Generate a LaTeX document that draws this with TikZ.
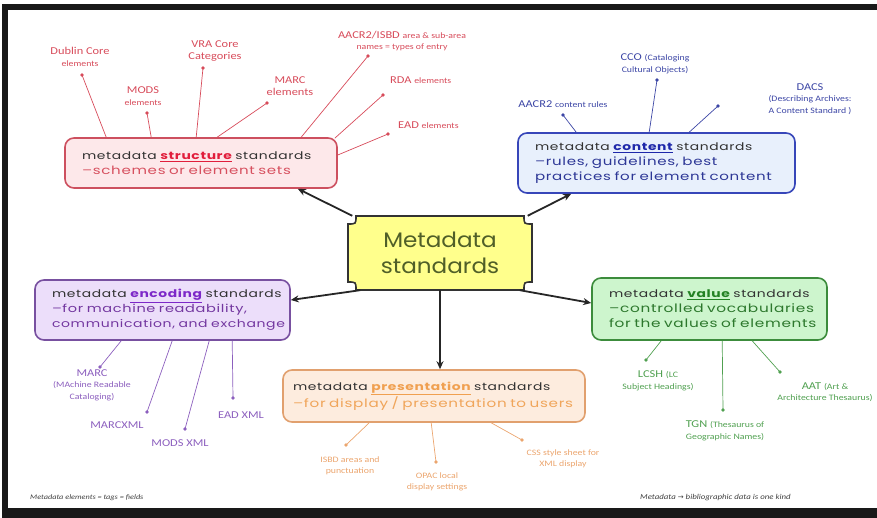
\documentclass[tikz,border=0pt]{standalone}
\usepackage{fontspec}
\setmainfont{Carlito}
\newfontfamily\boxfont[FakeStretch=1.32,LetterSpace=6]{Poppins}
\newfontfamily\bigfont[FakeStretch=1.1]{Poppins}
\newfontfamily\lblfont[FakeStretch=1.18]{Carlito}
\usetikzlibrary{arrows.meta,calc}

\definecolor{sred}{RGB}{205,80,95}
\definecolor{sfill}{RGB}{253,232,234}
\definecolor{skey}{RGB}{225,30,60}
\definecolor{stxt}{RGB}{215,80,95}
\definecolor{slbl}{RGB}{215,75,90}
\definecolor{cblue}{RGB}{55,70,185}
\definecolor{cfill}{RGB}{232,240,252}
\definecolor{ckey}{RGB}{30,40,170}
\definecolor{ctxt}{RGB}{45,55,150}
\definecolor{clbl}{RGB}{60,70,165}
\definecolor{epur}{RGB}{120,80,160}
\definecolor{efill}{RGB}{236,222,250}
\definecolor{ekey}{RGB}{125,40,200}
\definecolor{etxt}{RGB}{115,55,160}
\definecolor{elbl}{RGB}{140,95,190}
\definecolor{vgrn}{RGB}{60,140,60}
\definecolor{vfill}{RGB}{205,245,205}
\definecolor{vkey}{RGB}{35,130,35}
\definecolor{vtxt}{RGB}{45,120,45}
\definecolor{vlbl}{RGB}{80,160,80}
\definecolor{porg}{RGB}{225,160,110}
\definecolor{pfill}{RGB}{253,236,222}
\definecolor{pkey}{RGB}{240,160,80}
\definecolor{ptxt}{RGB}{240,165,90}
\definecolor{plbl}{RGB}{235,165,110}
\definecolor{mfill}{RGB}{255,255,140}
\definecolor{mtxt}{RGB}{80,95,40}
\definecolor{dgray}{RGB}{50,50,50}

\tikzset{
  stdbox/.style={draw, rounded corners=9pt, line width=1.6pt, align=left,
    inner xsep=0pt, inner ysep=0pt, font=\boxfont\fontsize{10.5}{15}\selectfont},
  lbl/.style={font=\lblfont\fontsize{10.5}{11.5}\selectfont, align=center, inner sep=0pt},
  cl/.style={line width=0.7pt},
  arr/.style={line width=1.8pt, draw=black!85, -{Stealth[length=8pt,width=7pt]}},
  dot/.style={radius=1.8pt}
}
\newcommand{\sm}{\fontsize{8.3}{9.5}\selectfont}
\newcommand{\subsz}[1]{\fontsize{#1}{15}\selectfont}

\begin{document}
\begin{tikzpicture}[x=1pt,y=-1pt]
\useasboundingbox (0,0) rectangle (877,518);
% frame
\fill[black!90] (2,4) rectangle (877,10);
\fill[black!90] (2,4) rectangle (8,518);
\fill[black!90] (2,508) rectangle (877,518);

% centre plaque
\draw[fill=mfill, draw=black!80, line width=1.6pt]
  (356,216) -- (524,216) .. controls (524,224) .. (532,224) -- (532,282)
  .. controls (524,282) .. (524,290) -- (356,290) .. controls (356,282) .. (348,282)
  -- (348,224) .. controls (356,224) .. (356,216) -- cycle;
\node[font=\bigfont\fontsize{21}{26}\selectfont, text=mtxt, align=center,
  minimum width=184pt, minimum height=74pt, inner sep=0pt] (ms) at (440,253) {Metadata\\standards};

% boxes
\node[stdbox, draw=sred, fill=sfill, minimum width=272pt, minimum height=50pt, text width=238pt] (struct) at (201,163)
 {\mbox{{\color{dgray}metadata} {\color{skey}\textbf{\underline{structure}}} {\color{dgray}standards}}\\
  \mbox{\subsz{11.4}\color{stxt}–schemes or element sets}};
\node[stdbox, draw=cblue, fill=cfill, minimum width=277pt, minimum height=60pt, text width=243pt] (content) at (656.5,163)
 {\mbox{{\color{dgray}metadata} {\color{ckey}\textbf{\underline{content}}} {\color{dgray}standards}}\\
  \mbox{\subsz{11.4}\color{ctxt}–rules, guidelines, best}\\
  \mbox{\subsz{11.4}\color{ctxt}practices for element content}};
\node[stdbox, draw=epur, fill=efill, minimum width=255pt, minimum height=60pt, text width=221pt] (enc) at (162.5,310)
 {\mbox{{\color{dgray}metadata} {\color{ekey}\textbf{\underline{encoding}}} {\color{dgray}standards}}\\
  \mbox{\subsz{11}\color{etxt}–for machine readability,}\\
  \mbox{\subsz{10.6}\color{etxt}communication, and exchange}};
\node[stdbox, draw=vgrn, fill=vfill, minimum width=235pt, minimum height=62pt, text width=201pt] (val) at (709.5,309)
 {\mbox{{\color{dgray}metadata} {\color{vkey}\textbf{\underline{value}}} {\color{dgray}standards}}\\
  \mbox{\subsz{11.6}\color{vtxt}–controlled vocabularies}\\
  \mbox{\subsz{11.6}\color{vtxt}for the values of elements}};
\node[stdbox, draw=porg, fill=pfill, minimum width=302pt, minimum height=52pt, text width=282pt] (pres) at (434,396)
 {\mbox{{\color{dgray}metadata} {\color{pkey}\textbf{\underline{presentation}}} {\color{dgray}standards}}\\
  \mbox{\subsz{11.5}\color{ptxt}–for display / presentation to users}};

% main arrows
\draw[arr] (ms.157) -- ($(struct.south east)+(-40,0)$);
\draw[arr] (ms.23) -- ($(content.south west)+(54,0)$);
\draw[arr] (ms.205) -- ($(enc.east)+(0,-10)$);
\draw[arr] (ms.335) -- ($(val.west)+(0,-6)$);
\draw[arr] (ms.south) -- (ms.south |- pres.north);

% structure labels
\begin{scope}[text=slbl]
\node[lbl] (dc) at (80,57) {Dublin Core\\{\sm elements}};
\node[lbl] (mods) at (143,96) {MODS\\{\sm elements}};
\node[lbl] (vra) at (215,51) {VRA Core\\Categories};
\node[lbl] (marc) at (290,86) {MARC\\elements};
\node[lbl] (aacr) at (402,41) {AACR2/ISBD {\sm area \& sub-area}\\{\sm names = types of entry}};
\node[lbl, anchor=west] (rda) at (390,80) {RDA {\sm elements}};
\node[lbl, anchor=west] (ead) at (398,125) {EAD {\sm elements}};
\end{scope}
\coordinate (dcd) at (82,75);
\coordinate (modsd) at (147,113);
\coordinate (vrad) at (203,68);
\coordinate (marcd) at (267,103);
\coordinate (aacrd) at (368,56);
\coordinate (rdad) at (383,95);
\coordinate (eadd) at (388,134);
\begin{scope}[slbl]
\foreach \d in {dcd,modsd,vrad,marcd,aacrd,rdad,eadd} \fill (\d) circle[dot];
\draw[cl] ($(struct.north west)+(42,0)$) -- (dcd);
\draw[cl] ($(struct.north west)+(87,0)$) -- (modsd);
\draw[cl] ($(struct.north west)+(132,0)$) -- (vrad);
\draw[cl] ($(struct.north west)+(153,0)$) -- (marcd);
\draw[cl] ($(struct.north west)+(237,0)$) -- (aacrd);
\draw[cl] ($(struct.north east)+(-3,1)$) -- (rdad);
\draw[cl] ($(struct.east)+(0,-8)$) -- (eadd);
\end{scope}

% content labels
\begin{scope}[text=clbl]
\node[lbl] (cco) at (655,64) {CCO {\sm (Cataloging}\\{\sm Cultural Objects)}};
\node[lbl] (aacrc) at (563,104) {AACR2 {\sm content rules}};
\node[lbl] (dacs) at (810,99) {DACS\\{\sm (Describing Archives:}\\{\sm A Content Standard )}};
\end{scope}
\coordinate (ccod) at (657,80);
\coordinate (aacrcd) at (563,115);
\coordinate (dacsd) at (718,106);
\begin{scope}[clbl]
\foreach \d in {ccod,aacrcd,dacsd} \fill (\d) circle[dot];
\draw[cl] ($(content.north west)+(132,0)$) -- (ccod);
\draw[cl] ($(content.north west)+(59,0)$) -- (aacrcd);
\draw[cl] ($(content.north west)+(172,0)$) -- (dacsd);
\end{scope}

% encoding labels
\begin{scope}[text=elbl]
\node[lbl] (marcx) at (92,385) {MARC\\{\sm (MAchine Readable}\\{\sm Cataloging)}};
\node[lbl] (marcxml) at (117,425) {MARCXML};
\node[lbl] (modsxml) at (180,443) {MODS XML};
\node[lbl] (eadxml) at (241,415) {EAD XML};
\end{scope}
\coordinate (marcxd) at (100,367);
\coordinate (marcxmld) at (147,412);
\coordinate (modsxmld) at (185,429);
\coordinate (eadxmld) at (233,398);
\begin{scope}[elbl]
\foreach \d in {marcxd,marcxmld,modsxmld,eadxmld} \fill (\d) circle[dot];
\draw[cl] ($(enc.south west)+(87,0)$) -- (marcxd);
\draw[cl] ($(enc.south west)+(138,0)$) -- (marcxmld);
\draw[cl] ($(enc.south west)+(175,0)$) -- (modsxmld);
\draw[cl] ($(enc.south west)+(198,0)$) -- (eadxmld);
\end{scope}

% presentation labels
\begin{scope}[text=plbl]
\node[lbl] (isbd) at (350,466) {{\sm ISBD areas and}\\{\sm punctuation}};
\node[lbl] (opac) at (437,482) {{\sm OPAC local}\\{\sm display settings}};
\node[lbl] (css) at (563,459) {{\sm CSS style sheet for}\\{\sm XML display}};
\end{scope}
\coordinate (isbdd) at (346,445);
\coordinate (opacd) at (436,462);
\coordinate (cssd) at (522,440);
\begin{scope}[plbl]
\foreach \d in {isbdd,opacd,cssd} \fill (\d) circle[dot];
\draw[cl] ($(pres.south west)+(87,0)$) -- (isbdd);
\draw[cl] ($(pres.south west)+(149,0)$) -- (opacd);
\draw[cl] ($(pres.south west)+(209,0)$) -- (cssd);
\end{scope}

% value labels
\begin{scope}[text=vlbl]
\node[lbl] (lcsh) at (658,381) {LCSH {\sm (LC}\\{\sm Subject Headings)}};
\node[lbl] (tgn) at (725,431) {TGN {\sm (Thesaurus of}\\{\sm Geographic Names)}};
\node[lbl] (aat) at (825,392) {AAT {\sm (Art \&}\\{\sm Architecture Thesaurus)}};
\end{scope}
\coordinate (lcshd) at (646,360);
\coordinate (tgnd) at (723,410);
\coordinate (aatd) at (780,372);
\begin{scope}[vlbl]
\foreach \d in {lcshd,tgnd,aatd} \fill (\d) circle[dot];
\draw[cl] ($(val.south west)+(70,0)$) -- (lcshd);
\draw[cl] ($(val.south west)+(131,0)$) -- (tgnd);
\draw[cl] ($(val.south west)+(161,0)$) -- (aatd);
\end{scope}

% notes
\node[font=\lblfont\itshape\fontsize{7}{8}\selectfont, text=black!75, anchor=west, inner sep=0pt] (n1) at (30,498) {Metadata elements = tags = \textit{fields}};
\node[font=\lblfont\itshape\fontsize{7.5}{8}\selectfont, text=black!75, anchor=west, inner sep=0pt] (n2) at (640,498) {Metadata {\fontspec{DejaVu Sans}\fontsize{7}{8}\selectfont→} bibliographic data is one kind};
\end{tikzpicture}
\end{document}
